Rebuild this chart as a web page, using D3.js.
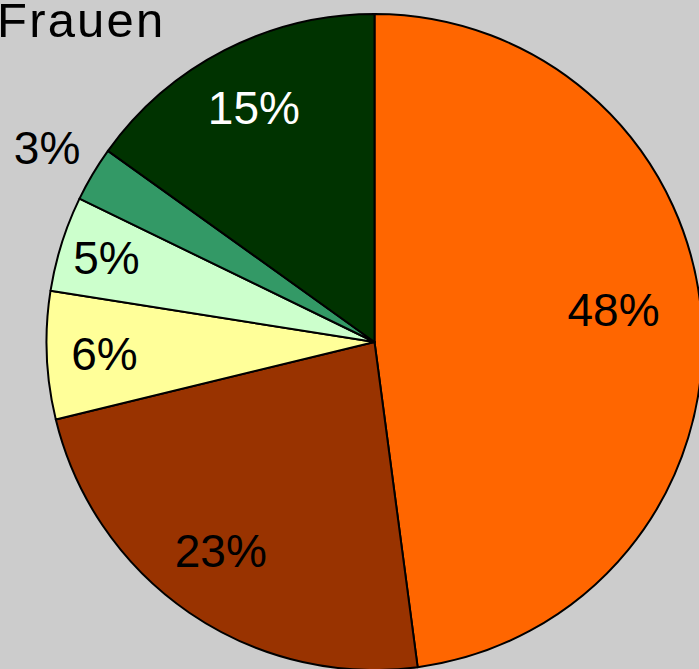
<!DOCTYPE html>
<html>
<head>
<meta charset="utf-8">
<script src="https://cdn.jsdelivr.net/npm/d3@7"></script>
<style>
  html, body { margin: 0; padding: 0; background: #cccccc; overflow: hidden; }
  svg { display: block; }
</style>
</head>
<body>
<svg id="chart" width="699" height="669"></svg>
<script>
const title = "Frauen";
const categories = ["A", "B", "C", "D", "E", "F"];
const values = [47.9, 23.3, 6.3, 4.7, 2.7, 15.1];
const colors = ["#ff6600", "#993300", "#ffff99", "#ccffcc", "#339966", "#003300"];
const labelColors = ["#000000", "#000000", "#000000", "#000000", "#000000", "#ffffff"];

const W = 699, H = 669;
const cx = 374.5, cy = 342, R = 328;

const svg = d3.select("#chart");
svg.append("rect").attr("width", W).attr("height", H).attr("fill", "#cccccc");

const data = categories.map((c, i) => ({ cat: c, value: values[i], color: colors[i], lc: labelColors[i] }));

const pie = d3.pie().value(d => d.value).sort(null);
const arcs = pie(data);
const arc = d3.arc().innerRadius(0).outerRadius(R);

const g = svg.append("g").attr("transform", `translate(${cx},${cy})`);

g.selectAll("path.slice")
  .data(arcs)
  .enter().append("path")
  .attr("class", "slice")
  .attr("d", arc)
  .attr("fill", d => d.data.color)
  .attr("stroke", "#000")
  .attr("stroke-width", 2)
  .attr("stroke-linejoin", "round");

// label radius factor depends on slice size; tiny slices go outside
const rFactor = d3.scaleLinear().domain([5, 6.5, 15, 23, 48]).range([0.857, 0.819, 0.805, 0.831, 0.73]).clamp(true);
const labelR = v => v < 4 ? R * 1.162 : R * rFactor(v);
const midA = d => (d.startAngle + d.endAngle) / 2;
// labels on the right/bottom half sit on their baseline, others are centred
const labelDy = d => midA(d) < Math.PI * 1.3 ? "0em" : "0.36em";

g.selectAll("text.lbl")
  .data(arcs)
  .enter().append("text")
  .attr("class", "lbl")
  .attr("x", d => Math.sin(midA(d)) * labelR(d.data.value))
  .attr("y", d => -Math.cos(midA(d)) * labelR(d.data.value))
  .attr("text-anchor", "middle")
  .attr("dy", labelDy)
  .attr("font-family", "'Liberation Sans', Arial, Helvetica, sans-serif")
  .attr("font-size", 46)
  .attr("fill", d => d.data.lc)
  .text(d => Math.round(d.data.value) + "%");

svg.append("text")
  .attr("x", -3)
  .attr("y", 37)
  .attr("font-family", "'Liberation Sans', Arial, Helvetica, sans-serif")
  .attr("font-size", 49)
  .attr("letter-spacing", 2.2)
  .attr("fill", "#000")
  .text(title);
</script>
</body>
</html>
